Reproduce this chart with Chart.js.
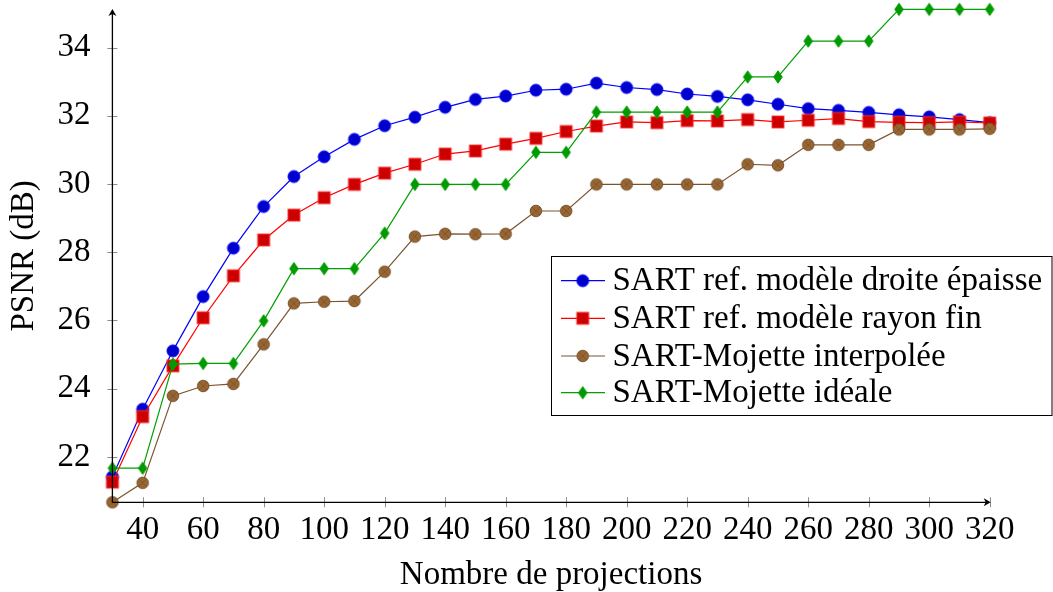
<!DOCTYPE html>
<html>
<head>
<meta charset="utf-8">
<script src="https://cdn.jsdelivr.net/npm/chart.js@4/dist/chart.umd.min.js"></script>
<style>
  html, body { margin: 0; padding: 0; background: #fff; }
  canvas { display: block; }
</style>
</head>
<body>
<canvas id="myChart" width="1053" height="592"></canvas>
<script>
const FONT = "'Liberation Serif', 'Times New Roman', serif";

const projections = [30, 40, 50, 60, 70, 80, 90, 100, 110, 120, 130, 140, 150, 160, 170,
    180, 190, 200, 210, 220, 230, 240, 250, 260, 270, 280, 290, 300, 310, 320];
const xTicks = [40, 60, 80, 100, 120, 140, 160, 180, 200, 220, 240, 260, 280, 300, 320];
const yTicks = [22, 24, 26, 28, 30, 32, 34];

const droiteEpaisse = [21.42, 23.40, 25.11, 26.70, 28.12, 29.34, 30.22, 30.80, 31.31, 31.71,
    31.96, 32.25, 32.48, 32.58, 32.75, 32.78, 32.96, 32.83, 32.77, 32.64,
    32.57, 32.47, 32.34, 32.21, 32.16, 32.10, 32.03, 31.97, 31.89, 31.80];
const rayonFin = [21.26, 23.18, 24.67, 26.08, 27.31, 28.36, 29.09, 29.60, 29.99, 30.32,
    30.58, 30.88, 30.97, 31.17, 31.34, 31.54, 31.70, 31.82, 31.80, 31.86,
    31.85, 31.89, 31.82, 31.87, 31.92, 31.83, 31.81, 31.80, 31.82, 31.79];
const mojetteInterp = [20.67, 21.24, 23.79, 24.08, 24.14, 25.30, 26.50, 26.55, 26.57, 27.43,
    28.46, 28.54, 28.53, 28.54, 29.21, 29.21, 29.99, 29.99, 29.99, 29.99,
    29.99, 30.58, 30.55, 31.15, 31.15, 31.15, 31.60, 31.60, 31.60, 31.62];
const mojetteIdeale = [21.67, 21.67, 24.72, 24.74, 24.74, 25.99, 27.52, 27.52, 27.52, 28.56,
    29.99, 29.99, 29.99, 29.99, 30.93, 30.93, 32.11, 32.11, 32.11, 32.11,
    32.11, 33.14, 33.14, 34.19, 34.19, 34.19, 35.12, 35.12, 35.12, 35.12];

const seriesNames = ['SART ref. modèle droite épaisse', 'SART ref. modèle rayon fin',
    'SART-Mojette interpolée', 'SART-Mojette idéale'];

// marker images (pgfplots-like)
function makeMarker(kind) {
    const c = document.createElement('canvas');
    c.width = 16; c.height = 16;
    const g = c.getContext('2d');
    g.translate(8, 8);
    g.lineWidth = 0.9;
    if (kind === 'circle') {
        g.beginPath(); g.arc(0, 0, 6, 0, Math.PI * 2);
        g.fillStyle = '#0000cc'; g.fill();
        g.strokeStyle = '#0000ff'; g.stroke();
    } else if (kind === 'square') {
        g.fillStyle = '#cc0000'; g.fillRect(-6, -6, 12, 12);
        g.strokeStyle = '#ff3333'; g.strokeRect(-6, -6, 12, 12);
    } else if (kind === 'otimes') {
        g.beginPath(); g.arc(0, 0, 5.8, 0, Math.PI * 2);
        g.fillStyle = '#996633'; g.fill();
        g.strokeStyle = '#734d26'; g.stroke();
        const d = 5.8 * Math.SQRT1_2;
        g.beginPath();
        g.moveTo(-d, -d); g.lineTo(d, d);
        g.moveTo(-d, d); g.lineTo(d, -d);
        g.lineWidth = 0.7; g.stroke();
    } else {
        g.beginPath();
        g.moveTo(0, -6.2); g.lineTo(4.3, 0); g.lineTo(0, 6.2); g.lineTo(-4.3, 0); g.closePath();
        g.fillStyle = '#009900'; g.fill();
        g.strokeStyle = '#00a000'; g.stroke();
    }
    return c;
}

const markers = [makeMarker('circle'), makeMarker('square'), makeMarker('otimes'), makeMarker('diamond')];
const lineColors = ['#0000ff', '#ff0000', '#7a5430', '#00a000'];
const allSeries = [droiteEpaisse, rayonFin, mojetteInterp, mojetteIdeale];

const datasets = allSeries.map((vals, i) => ({
    label: seriesNames[i],
    data: projections.map((x, j) => ({ x: x, y: vals[j] })),
    borderColor: lineColors[i],
    backgroundColor: lineColors[i],
    borderWidth: 1.2,
    pointStyle: markers[i],
    pointRadius: 6,
    tension: 0,
    clip: false,
    order: 4 - i
}));

function drawArrow(ctx, x, y, dir) {
    ctx.save();
    ctx.translate(x, y);
    if (dir === 'up') ctx.rotate(-Math.PI / 2);
    ctx.beginPath();
    ctx.moveTo(0, 0);
    ctx.lineTo(-7, -4);
    ctx.lineTo(-5, 0);
    ctx.lineTo(-7, 4);
    ctx.closePath();
    ctx.fillStyle = '#000';
    ctx.fill();
    ctx.restore();
}

const axesPlugin = {
    id: 'axesPlugin',
    afterDatasetsDraw(chart) {
        const ctx = chart.ctx;
        const xs = chart.scales.x, ys = chart.scales.y;
        const x0 = xs.getPixelForValue(30), y0 = ys.getPixelForValue(ys.min);
        const x1 = xs.getPixelForValue(320), y1 = ys.getPixelForValue(ys.max);
        ctx.save();
        // tick marks
        ctx.strokeStyle = '#8c8c8c';
        ctx.lineWidth = 1;
        xTicks.forEach(v => {
            const px = Math.round(xs.getPixelForValue(v)) + 0.5;
            ctx.beginPath(); ctx.moveTo(px, y0 - 5); ctx.lineTo(px, y0 + 5); ctx.stroke();
        });
        yTicks.forEach(v => {
            const py = Math.round(ys.getPixelForValue(v)) + 0.5;
            ctx.beginPath(); ctx.moveTo(x0 - 5, py); ctx.lineTo(x0 + 5, py); ctx.stroke();
        });
        // axis lines
        ctx.strokeStyle = '#000';
        ctx.lineWidth = 1.3;
        ctx.beginPath();
        ctx.moveTo(x0, y0); ctx.lineTo(x0, y1 + 2);
        ctx.moveTo(x0, y0); ctx.lineTo(x1 - 2, y0);
        ctx.stroke();
        drawArrow(ctx, x0, y1 - 0.5, 'up');
        drawArrow(ctx, x1 + 1, y0, 'right');
        ctx.restore();
    },
    afterDraw(chart) {
        // legend box inside the plot
        const ctx = chart.ctx;
        const left = 551.5, top = 256.5, right = 1052, bottom = 415.5;
        const rows = [280.7, 318.3, 356, 392.7];
        ctx.save();
        ctx.fillStyle = '#fff';
        ctx.fillRect(left, top, right - left, bottom - top);
        ctx.strokeStyle = '#000';
        ctx.lineWidth = 1;
        ctx.strokeRect(left, top, right - left, bottom - top);
        ctx.font = '33px ' + FONT;
        ctx.textBaseline = 'middle';
        ctx.textAlign = 'left';
        rows.forEach((ry, i) => {
            ctx.strokeStyle = lineColors[i];
            ctx.lineWidth = 1.2;
            ctx.beginPath(); ctx.moveTo(561, ry); ctx.lineTo(605, ry); ctx.stroke();
            ctx.drawImage(markers[i], 582.7 - 8, ry - 8);
            ctx.fillStyle = '#000';
            ctx.fillText(seriesNames[i], 612.5, ry + 1);
        });
        ctx.restore();
    }
};

const ctx = document.getElementById('myChart').getContext('2d');
const chart = new Chart(ctx, {
    type: 'line',
    data: { datasets: datasets },
    options: {
        responsive: false,
        animation: false,
        devicePixelRatio: 1,
        layout: { padding: { top: 9.4, right: 63.3, left: 0, bottom: 0 } },
        plugins: {
            legend: { display: false },
            tooltip: { enabled: false }
        },
        scales: {
            x: {
                type: 'linear',
                min: 30,
                max: 320,
                afterBuildTicks: s => { s.ticks = xTicks.map(v => ({ value: v })); },
                afterFit: s => { s.height = 89.7; s.paddingLeft = 0; s.paddingRight = 0; },
                grid: { display: false },
                border: { display: false },
                ticks: {
                    autoSkip: false,
                    maxRotation: 0,
                    padding: 0,
                    color: '#000',
                    font: { family: FONT, size: 33 }
                },
                title: {
                    display: true,
                    text: 'Nombre de projections',
                    color: '#000',
                    padding: { top: 0, bottom: -3 },
                    font: { family: FONT, size: 33 }
                }
            },
            y: {
                type: 'linear',
                min: 20.67,
                max: 35.12,
                afterBuildTicks: s => { s.ticks = yTicks.map(v => ({ value: v })); },
                afterFit: s => { s.width = 112.4; s.paddingTop = 0; s.paddingBottom = 0; },
                grid: { display: false },
                border: { display: false },
                ticks: {
                    padding: 14,
                    color: '#000',
                    font: { family: FONT, size: 33 }
                },
                title: {
                    display: true,
                    text: 'PSNR (dB)',
                    color: '#000',
                    padding: { top: 5, bottom: 0 },
                    font: { family: FONT, size: 33 }
                }
            }
        }
    },
    plugins: [axesPlugin]
});
</script>
</body>
</html>
